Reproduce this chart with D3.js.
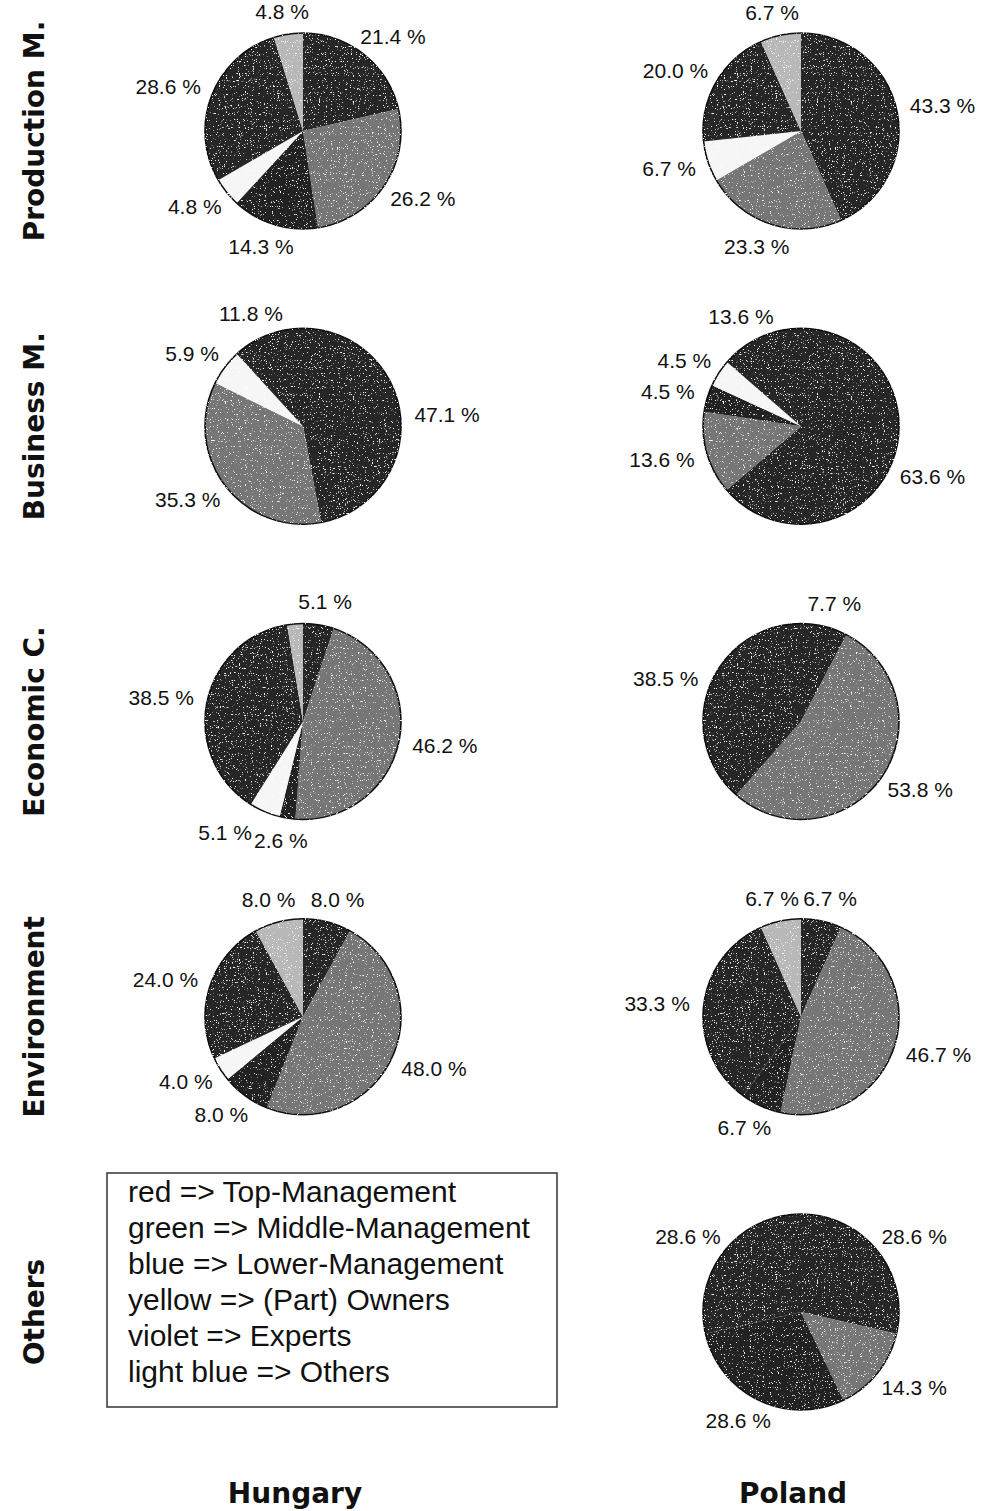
<!DOCTYPE html>
<html>
<head>
<meta charset="utf-8">
<script src="https://cdn.jsdelivr.net/npm/d3@7"></script>
<style>
  body { margin: 0; background: #fff; }
  svg { display: block; }
</style>
</head>
<body>
<svg id="chart" width="990" height="1511"></svg>
<script>
// Respondent groups per business area, Hungary vs Poland (shares in %)
const categories = ["Production M.", "Business M.", "Economic C.", "Environment", "Others"];
const countries = ["Hungary", "Poland"];
const groups = ["Top-Management", "Middle-Management", "Lower-Management", "(Part) Owners", "Experts", "Others"];
const colourNames = ["red", "green", "blue", "yellow", "violet", "light blue"];

// one row per category, values in the order of `groups`
const hungaryShares = [
  [21.4, 26.2, 14.3, 4.8, 28.6, 4.8],
  [47.1, 35.3, 0, 5.9, 11.8, 0],
  [5.1, 46.2, 2.6, 5.1, 38.5, 2.6],
  [8.0, 48.0, 8.0, 4.0, 24.0, 8.0],
  null
];
const polandShares = [
  [43.3, 23.3, 0, 6.7, 20.0, 6.7],
  [63.6, 13.6, 4.5, 4.5, 13.6, 0],
  [7.7, 53.8, 0, 0, 38.5, 0],
  [6.7, 46.7, 6.7, 0, 33.3, 6.7],
  [28.6, 14.3, 28.6, 0, 28.6, 0]
];
// slices printed without a value label
const unlabeledSlices = [["Hungary", "Economic C.", "Others"]];

const shares = { Hungary: hungaryShares, Poland: polandShares };

const svg = d3.select("#chart");

// printed-halftone speckle laid over the pie fills
const defs = svg.append("defs");
const grain = defs.append("filter").attr("id", "print-grain")
  .attr("x", "-2%").attr("y", "-2%").attr("width", "104%").attr("height", "104%");
grain.append("feTurbulence").attr("type", "fractalNoise").attr("baseFrequency", 0.85)
  .attr("numOctaves", 2).attr("seed", 11).attr("result", "noise");
grain.append("feColorMatrix").attr("in", "noise").attr("type", "matrix")
  .attr("values", "0 0 0 0 1  0 0 0 0 1  0 0 0 0 1  10 0 0 0 -6.6").attr("result", "dots");
grain.append("feComposite").attr("in", "dots").attr("in2", "SourceAlpha")
  .attr("operator", "in").attr("result", "clipped");
const merge = grain.append("feMerge");
merge.append("feMergeNode").attr("in", "SourceGraphic");
merge.append("feMergeNode").attr("in", "clipped");

const x = d3.scalePoint().domain(countries).range([303, 801]);
const y = d3.scalePoint().domain(categories).range([131, 1312]);
const radius = 98;
const labelGap = 14;

const shade = d3.scaleOrdinal()
  .domain(groups)
  .range(["#262626", "#767676", "#232323", "#f6f6f6", "#252525", "#b8b8b8"]);

const pie = d3.pie().sort(null).value(d => d.value);
const arc = d3.arc().innerRadius(0).outerRadius(radius);
const fmt = d3.format(".1f");

const isUnlabeled = (country, cat, group) =>
  unlabeledSlices.some(u => u[0] === country && u[1] === cat && u[2] === group);

countries.forEach(country => {
  categories.forEach((cat, ci) => {
    const vals = shares[country][ci];
    if (!vals) return;
    const rows = groups.map((g, gi) => ({ group: g, value: vals[gi] }));
    const arcs = pie(rows).filter(a => a.data.value > 0);

    const cell = svg.append("g").attr("transform", `translate(${x(country)},${y(cat)})`);
    const body = cell.append("g").attr("filter", "url(#print-grain)");
    body.selectAll("path").data(arcs).join("path")
      .attr("d", arc)
      .attr("fill", d => shade(d.data.group));
    body.append("circle").attr("r", radius)
      .attr("fill", "none").attr("stroke", "#111").attr("stroke-width", 1.6);

    const labels = cell.selectAll("text.value")
      .data(arcs.filter(a => !isUnlabeled(country, cat, a.data.group)))
      .join("text")
      .attr("class", "value")
      .attr("font-family", "'Liberation Sans', Arial, sans-serif")
      .attr("font-size", 21)
      .attr("fill", "#111")
      .attr("text-anchor", "middle")
      .attr("dy", "0.35em")
      .text(d => fmt(d.data.value) + " %")
      .each(function (d) {
        const a = (d.startAngle + d.endAngle) / 2;
        const w = this.getComputedTextLength();
        const s = Math.sin(a), c = Math.cos(a);
        d.mid = a;
        d3.select(this)
          .attr("x", s * (radius + labelGap + w / 2))
          .attr("y", -c * (radius + labelGap + 9));
      });

    // push apart labels of neighbouring thin slices: the one lying further
    // to the side moves outward horizontally
    const nodes = labels.nodes();
    for (let i = 0; i < nodes.length; i++) {
      for (let j = i + 1; j < nodes.length; j++) {
        const b1 = nodes[i].getBBox(), b2 = nodes[j].getBBox();
        const ox = Math.min(b1.x + b1.width, b2.x + b2.width) - Math.max(b1.x, b2.x);
        const oy = Math.min(b1.y + b1.height, b2.y + b2.height) - Math.max(b1.y, b2.y);
        if (ox > 0 && oy > 0) {
          const di = d3.select(nodes[i]).datum(), dj = d3.select(nodes[j]).datum();
          const mover = Math.abs(Math.sin(di.mid)) >= Math.abs(Math.sin(dj.mid)) ? nodes[i] : nodes[j];
          const dir = Math.sin(d3.select(mover).datum().mid) < 0 ? -1 : 1;
          const sel = d3.select(mover);
          sel.attr("x", +sel.attr("x") + dir * (ox + 2));
        }
      }
    }
  });
});

// row titles
svg.selectAll("text.row").data(categories).join("text")
  .attr("class", "row")
  .attr("transform", d => `translate(44,${y(d)}) rotate(-90)`)
  .attr("text-anchor", "middle")
  .attr("font-family", "'DejaVu Sans', sans-serif")
  .attr("font-weight", "bold")
  .attr("font-size", 28)
  .attr("fill", "#111")
  .text(d => d);

// column titles
svg.selectAll("text.col").data(countries).join("text")
  .attr("class", "col")
  .attr("x", d => x(d) - 8)
  .attr("y", 1503)
  .attr("text-anchor", "middle")
  .attr("font-family", "'DejaVu Sans', sans-serif")
  .attr("font-weight", "bold")
  .attr("font-size", 28)
  .attr("fill", "#111")
  .text(d => d);

// colour key in the empty Hungary / Others cell
const key = svg.append("g")
  .attr("transform", `translate(${x("Hungary")},${y("Others")})`);
key.append("rect")
  .attr("x", -196).attr("y", -139).attr("width", 450).attr("height", 234)
  .attr("fill", "#fff").attr("stroke", "#333").attr("stroke-width", 1.5);
key.selectAll("text").data(groups).join("text")
  .attr("x", -175)
  .attr("y", (d, i) => -110 + i * 36)
  .attr("font-family", "'Liberation Sans', Arial, sans-serif")
  .attr("font-size", 30)
  .attr("fill", "#111")
  .text((d, i) => `${colourNames[i]} => ${d}`);
</script>
</body>
</html>
